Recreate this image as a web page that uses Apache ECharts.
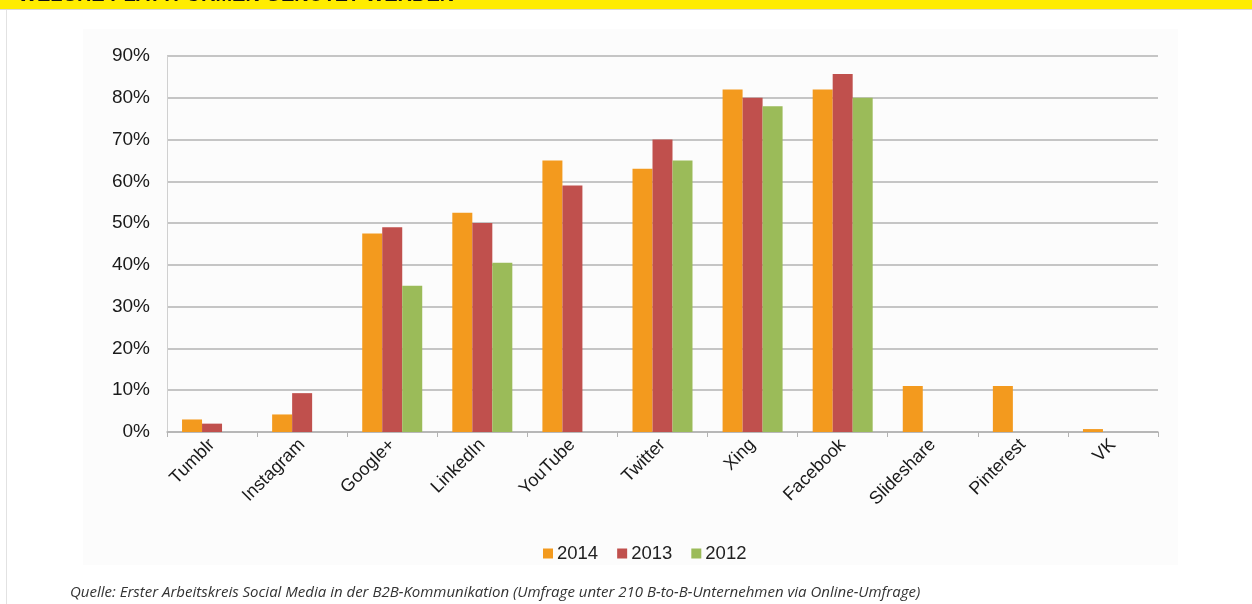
<!DOCTYPE html>
<html>
<head>
<meta charset="utf-8">
<script src="https://cdn.jsdelivr.net/npm/echarts@6/dist/echarts.min.js"></script>
<style>
html,body{margin:0;padding:0;background:#fff;}
#c{width:1252px;height:604px;}
</style>
</head>
<body>
<div id="c"></div>
<script>
var categories = ['Tumblr','Instagram','Google+','LinkedIn','YouTube','Twitter','Xing','Facebook','Slideshare','Pinterest','VK'];
var s2014 = [3, 4.2, 47.5, 52.5, 65, 63, 82, 82, 11, 11, 0.7];
var s2013 = [2, 9.3, 49, 50, 59, 70, 80, 85.7, null, null, null];
var s2012 = [null, null, 35, 40.5, null, 65, 78, 80, null, null, null];
var yTicks = [0, 10, 20, 30, 40, 50, 60, 70, 80, 90];
var seriesNames = ['2014','2013','2012'];
var colors = ['#f39a1e','#c0504d','#9bbb59'];
var bannerText = 'WELCHE PLATTFORMEN GENUTZT WERDEN';
var sourceText = 'Quelle: Erster Arbeitskreis Social Media in der B2B-Kommunikation (Umfrage unter 210 B-to-B-Unternehmen via Online-Umfrage)';

var chart = echarts.init(document.getElementById('c'), null, {renderer:'canvas'});
var font = 'Liberation Sans, Arial, sans-serif';
var data = [s2014, s2013, s2012];
chart.setOption({
  animation: false,
  backgroundColor: '#ffffff',
  color: colors,
  graphic: [
    {type:'text', left:18, top:-15, style:{text:bannerText, font:'bold 20px Liberation Sans, Arial, sans-serif', fill:'#111'}, z:-9},
    {type:'rect', shape:{x:0,y:0,width:1252,height:9}, style:{fill:'#ffec00'}, z:-10},
    {type:'rect', shape:{x:0,y:9,width:1252,height:1}, style:{fill:'#d8d8d8'}, z:-10},
    {type:'rect', shape:{x:6,y:10,width:1,height:594}, style:{fill:'#e2e2e2'}, z:-10},
    {type:'rect', shape:{x:83,y:29,width:1095,height:536}, style:{fill:'#fcfcfc'}, z:-10},
    {type:'text', left:70, top:585, style:{text:sourceText, font:'italic 15px Open Sans, sans-serif', fill:'#333'}}
  ],
  legend: {
    left: 538, top: 539,
    itemWidth: 10, itemHeight: 10, itemGap: 19,
    icon: 'rect',
    textStyle: {fontSize: 18.5, color:'#222', fontFamily: font, padding:[0,0,0,-1]},
    data: seriesNames
  },
  grid: {left:167, right:94, top:56, bottom:172},
  xAxis: {
    type:'category', data: categories,
    axisLine:{lineStyle:{color:'#b3b3b3', width:1.5}},
    axisTick:{show:true, length:5, lineStyle:{color:'#b3b3b3'}},
    axisLabel:{rotate:45, fontSize:18, color:'#1a1a1a', fontFamily:font, margin:10, interval:0}
  },
  yAxis: {
    type:'value', min:0, max:90, interval:10,
    axisLine:{show:true, lineStyle:{color:'#d0d0d0', width:1}},
    axisTick:{show:false},
    splitLine:{lineStyle:{color:'#b3b3b3', width:1.5}},
    axisLabel:{fontSize:19, color:'#1a1a1a', fontFamily:font, margin:17,
      formatter:function(v){ return yTicks.indexOf(v) >= 0 ? v + '%' : ''; }}
  },
  series: seriesNames.map(function(n,i){
    return {name:n, type:'bar', data:data[i], barWidth:20, barGap:'0%', barCategoryGap:'33%'};
  })
});
</script>
</body>
</html>
